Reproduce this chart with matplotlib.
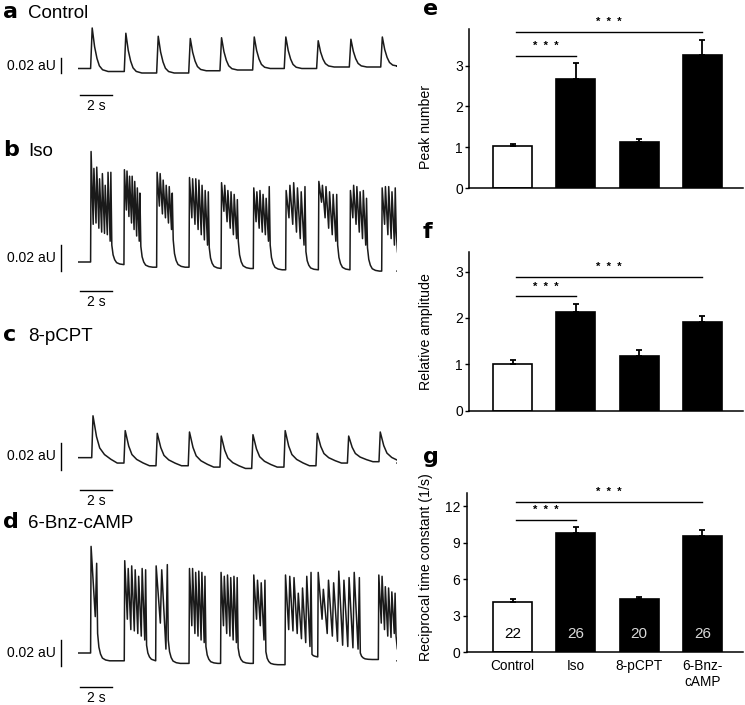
import numpy as np
import matplotlib.pyplot as plt

plt.rcParams['font.family'] = ['Liberation Sans', 'DejaVu Sans']

W, H = 745, 705
fig = plt.figure(figsize=(W / 100, H / 100), dpi=100)


def px_axes(x0, y0, x1, y1):
    # axes placed by pixel box (top-left origin)
    return fig.add_axes([x0 / W, 1 - y1 / H, (x1 - x0) / W, (y1 - y0) / H])


def fig_text(px, py, s, **kw):
    fig.text(px / W, 1 - py / H, s, **kw)


# ---------------- trace data (time in s, signal in aU) ----------------
T_END = 20.0

# a  Control: single transients
a_onsets = [0.79, 2.90, 4.93, 6.94, 8.90, 10.95, 12.93, 14.96, 17.01, 18.98]
a_peaks = [0.056, 0.049, 0.045, 0.042, 0.043, 0.044, 0.044, 0.039, 0.041, 0.044]
a_rests = [0.002, -0.002, -0.004, -0.004, -0.001, 0.0, 0.002, 0.002, 0.004, 0.004, 0.005]
a_shape_t = [0, 0.1, 0.25, 0.4, 0.55, 0.75, 1.1]
a_shape_f = [0, 1, 0.57, 0.3, 0.13, 0.04, 0]

# c  8-pCPT: single transients, slower tail
c_onsets = [0.86, 2.88, 4.89, 6.91, 8.90, 10.89, 12.91, 14.92, 16.89, 18.87]
c_peaks = [0.032, 0.021, 0.019, 0.020, 0.017, 0.018, 0.021, 0.019, 0.017, 0.020]
c_rests = [0.001, -0.003, -0.005, -0.005, -0.006, -0.007, -0.006, -0.005, -0.003, -0.002, -0.003]
c_shape_t = [0, 0.08, 0.3, 0.5, 0.8, 1.2, 1.6]
c_shape_f = [0, 1, 0.56, 0.32, 0.18, 0.08, 0]

# b  Iso: bursts of oscillations
b_onsets = [0.79, 2.88, 4.93, 6.96, 8.97, 10.99, 13.02, 15.07, 17.05, 19.04]
b_durs = [1.27, 1.0, 0.98, 1.21, 1.02, 1.0, 1.21, 1.15, 1.04, 0.85]
b_peaks = [
    [0.085, 0.072, 0.073, 0.064, 0.068, 0.059, 0.069, 0.069],
    [0.071, 0.070, 0.066, 0.066, 0.062, 0.057, 0.053],
    [0.069, 0.068, 0.063, 0.059, 0.058, 0.053],
    [0.065, 0.064, 0.064, 0.063, 0.059, 0.055, 0.054],
    [0.061, 0.059, 0.055, 0.054, 0.052, 0.048],
    [0.057, 0.054, 0.055, 0.052, 0.049, 0.058],
    [0.055, 0.059, 0.061, 0.057, 0.054, 0.058],
    [0.062, 0.059, 0.058, 0.054, 0.052, 0.052],
    [0.055, 0.059, 0.058, 0.054, 0.055, 0.049],
    [0.057, 0.058, 0.058, 0.054, 0.057],
]
b_troughs = [
    [0.029, 0.030, 0.026, 0.023, 0.022, 0.021, 0.016, 0.013],
    [0.040, 0.035, 0.030, 0.025, 0.020, 0.016, 0.012],
    [0.043, 0.037, 0.034, 0.030, 0.025, 0.017],
    [0.034, 0.029, 0.025, 0.021, 0.017, 0.013, 0.011],
    [0.039, 0.031, 0.026, 0.021, 0.018, 0.016],
    [0.031, 0.026, 0.023, 0.021, 0.016, 0.013],
    [0.034, 0.029, 0.023, 0.018, 0.013, 0.008],
    [0.046, 0.034, 0.026, 0.021, 0.016, 0.013],
    [0.034, 0.029, 0.023, 0.018, 0.013, 0.011],
    [0.029, 0.021, 0.018, 0.013, 0.023],
]
b_rests = [0.0, -0.002, -0.004, -0.004, -0.005, -0.005, -0.006, -0.006, -0.006, -0.007, -0.007]

# d  6-Bnz-cAMP: bursts
d_onsets = [0.79, 2.90, 4.87, 6.96, 8.94, 10.99, 12.98, 15.03, 18.83]
d_durs = [0.38, 1.34, 0.73, 1.0, 1.04, 0.73, 1.63, 2.61, 1.05]
d_peaks = [
    [0.082, 0.069],
    [0.071, 0.065, 0.067, 0.064, 0.059, 0.065, 0.064],
    [0.067, 0.064, 0.068],
    [0.065, 0.065, 0.062, 0.063, 0.062, 0.059],
    [0.062, 0.059, 0.060, 0.058, 0.059, 0.058],
    [0.060, 0.056, 0.054, 0.056],
    [0.060, 0.059, 0.058, 0.046, 0.050, 0.059, 0.062],
    [0.062, 0.049, 0.056, 0.054, 0.063, 0.056, 0.058, 0.062, 0.058],
    [0.060, 0.059, 0.051, 0.050, 0.047, 0.046],
]
d_troughs = [
    [0.028, 0.015],
    [0.026, 0.018, 0.017, 0.015, 0.013, 0.010, 0.006],
    [0.023, 0.003, 0.010],
    [0.021, 0.015, 0.013, 0.010, 0.008, 0.005],
    [0.021, 0.015, 0.013, 0.010, 0.008, 0.004],
    [0.026, 0.021, 0.010, 0.001],
    [0.018, 0.017, 0.015, 0.011, 0.008, 0.005, -0.001],
    [0.026, 0.015, 0.013, 0.009, 0.006, 0.005, 0.004, 0.003, 0.0],
    [0.023, 0.018, 0.013, 0.012, 0.015, 0.013],
]
d_rests = [0.0, -0.006, -0.006, -0.008, -0.008, -0.008, -0.009, -0.003, -0.005, -0.006]

decay_t = [0, 0.08, 0.18, 0.3, 0.5, 0.75]
decay_f = [1, 0.5, 0.25, 0.1, 0.03, 0]

# ---------------- bar chart data ----------------
groups = ['Control', 'Iso', '8-pCPT', '6-Bnz-\ncAMP']
bar_colors = ['white', 'black', 'black', 'black']
peak_number = [1.04, 2.68, 1.12, 3.27]
peak_number_err = [0.03, 0.38, 0.08, 0.35]
rel_amp = [1.01, 2.13, 1.17, 1.92]
rel_amp_err = [0.08, 0.18, 0.13, 0.12]
recip_tau = [4.13, 9.81, 4.37, 9.57]
recip_tau_err = [0.22, 0.49, 0.19, 0.46]
n_cells = [22, 26, 20, 26]
# significance brackets: (from group, to group, line height)
e_sig = [(0, 1, 3.25), (0, 3, 3.83)]
f_sig = [(0, 1, 2.47), (0, 3, 2.89)]
g_sig = [(0, 1, 10.88), (0, 3, 12.35)]


def twitch_trace(onsets, peaks, rests, shape_t, shape_f):
    t, y = [0.0], [rests[0]]
    for i, (t0, pk) in enumerate(zip(onsets, peaks)):
        after = rests[i + 1]
        t.append(t0)
        y.append(rests[i])
        for dt, f in zip(shape_t[1:], shape_f[1:]):
            t.append(t0 + dt)
            y.append(after + f * (pk - after))
    t.append(T_END)
    y.append(rests[-1])
    return t, y


def burst_trace(onsets, durs, peaks, troughs, rests):
    t, y = [0.0], [rests[0]]
    for i, t0 in enumerate(onsets):
        pk, tr = peaks[i], troughs[i]
        n = len(pk)
        step = (durs[i] - 0.03) / (n - 1)
        t.append(t0)
        y.append(rests[i])
        for k in range(n):
            tp = t0 + 0.03 + k * step
            t.append(tp)
            y.append(pk[k])
            if k < n - 1:
                t.append(tp + 0.75 * step)
                y.append(tr[k])
        tl = t0 + 0.03 + (n - 1) * step + 0.06
        nxt = onsets[i + 1] if i + 1 < len(onsets) else 1e9
        after = rests[i + 1]
        for dt, f in zip(decay_t, decay_f):
            if tl + dt < nxt - 0.02:
                t.append(tl + dt)
                y.append(after + f * (tr[-1] - after))
    t.append(T_END)
    y.append(rests[-1])
    return t, y


traces = [
    ('a', 'Control', twitch_trace(a_onsets, a_peaks, a_rests, a_shape_t, a_shape_f),
     dict(top=20, bottom=115, base=70, k=750, vbar=73, hbar=95, title=18)),
    ('b', 'Iso', burst_trace(b_onsets, b_durs, b_peaks, b_troughs, b_rests),
     dict(top=140, bottom=310, base=262, k=1300, vbar=271, hbar=291, title=156)),
    ('c', '8-pCPT', twitch_trace(c_onsets, c_peaks, c_rests, c_shape_t, c_shape_f),
     dict(top=320, bottom=510, base=459, k=1350, vbar=470, hbar=490, title=341)),
    ('d', '6-Bnz-cAMP', burst_trace(d_onsets, d_durs, d_peaks, d_troughs, d_rests),
     dict(top=530, bottom=705, base=653, k=1300, vbar=666, hbar=687, title=528)),
]

X0, X1 = 78, 397
px_per_s = (X1 - X0) / T_END
for letter, title, (tt, yy), L in traces:
    ax = px_axes(X0, L['top'], X1, L['bottom'])
    conv = lambda py, L=L: (L['base'] - py) / L['k']
    ax.set_xlim(0, T_END)
    ax.set_ylim(conv(L['bottom']), conv(L['top']))
    ax.axis('off')
    ax.plot(tt, yy, color='#1a1a1a', lw=1.1, solid_joinstyle='round')
    # scale bars
    xv = (60.5 - X0) / px_per_s
    vb = conv(L['vbar'])
    ax.plot([xv, xv], [vb, vb + 0.02], color='black', lw=1.0, clip_on=False)
    ax.text((56 - X0) / px_per_s, vb + 0.01, '0.02 aU', ha='right', va='center',
            fontsize=10, clip_on=False)
    x_h0 = (80 - X0) / px_per_s
    hb = conv(L['hbar'])
    ax.plot([x_h0, x_h0 + 2], [hb, hb], color='black', lw=1.0, clip_on=False)
    ax.text(x_h0 + 1, conv(L['hbar'] + 4), '2 s', ha='center', va='top',
            fontsize=10, clip_on=False)
    fig_text(3, L['title'], letter, fontsize=16, fontweight='bold',
             family='DejaVu Sans', va='baseline')
    fig_text(28, L['title'], title, fontsize=13.5, va='baseline')


# ---------------- bar panels ----------------
xpos = np.arange(len(groups))
bar_panels = [
    ('e', 'Peak number', peak_number, peak_number_err, e_sig,
     dict(box=(469, 29, 743, 188), ymax=3.9, ticks=[0, 1, 2, 3], lab_y=0.386,
          letter=(423, 15), star_gap=0.12)),
    ('f', 'Relative amplitude', rel_amp, rel_amp_err, f_sig,
     dict(box=(469, 251.7, 743, 410.7), ymax=3.43, ticks=[0, 1, 2, 3], lab_y=0.497,
          letter=(423, 238), star_gap=0.1)),
    ('g', 'Reciprocal time constant (1/s)', recip_tau, recip_tau_err, g_sig,
     dict(box=(466.7, 492.7, 743, 652.3), ymax=13.1, ticks=[0, 3, 6, 9, 12], lab_y=0.531,
          letter=(423, 463), star_gap=0.4)),
]

for letter, ylabel, vals, errs, sig, L in bar_panels:
    x0, y0, x1, y1 = L['box']
    ax = px_axes(x0, y0, x1, y1)
    ax.bar(xpos, vals, width=0.616, color=bar_colors, edgecolor='black', linewidth=1.2, zorder=2)
    ax.errorbar(xpos, vals, yerr=[np.zeros(len(vals)), errs], fmt='none', ecolor='black',
                elinewidth=1.3, capsize=2.4, capthick=1.3, zorder=3)
    span = 63.3
    ax.set_xlim(-(512.5 - x0) / span, (x1 - 512.5) / span)
    ax.set_ylim(0, L['ymax'])
    ax.set_yticks(L['ticks'])
    ax.spines['top'].set_visible(False)
    ax.spines['right'].set_visible(False)
    ax.spines['left'].set_linewidth(1.1)
    ax.spines['bottom'].set_linewidth(1.1)
    ax.tick_params(axis='y', direction='out', length=3, width=1.0, pad=1.5, labelsize=10)
    ax.set_ylabel(ylabel, fontsize=10.2)
    ax.yaxis.set_label_coords(-(x0 - 433) / (x1 - x0), L['lab_y'])
    if letter == 'g':
        ax.set_xticks(xpos, groups)
        ax.tick_params(axis='x', length=0, pad=5, labelsize=9.8)
        for i, n in enumerate(n_cells):
            ax.text(xpos[i], 1.5, str(n), ha='center', va='center', fontsize=11,
                    color='black' if bar_colors[i] == 'white' else '#d8d8d8', zorder=4)
    else:
        ax.set_xticks([])
    for g1, g2, yl in sig:
        ax.plot([g1 + 0.05, g2], [yl, yl], color='black', lw=1.0, clip_on=False)
        ax.text((g1 + 0.05 + g2) / 2, yl + L['star_gap'], '*  *  *', ha='center', va='bottom',
                fontsize=8, fontweight='bold', clip_on=False)
    fig_text(L['letter'][0], L['letter'][1], letter, fontsize=16, fontweight='bold',
             family='DejaVu Sans', va='baseline')

fig.savefig('out.png', dpi=100)
